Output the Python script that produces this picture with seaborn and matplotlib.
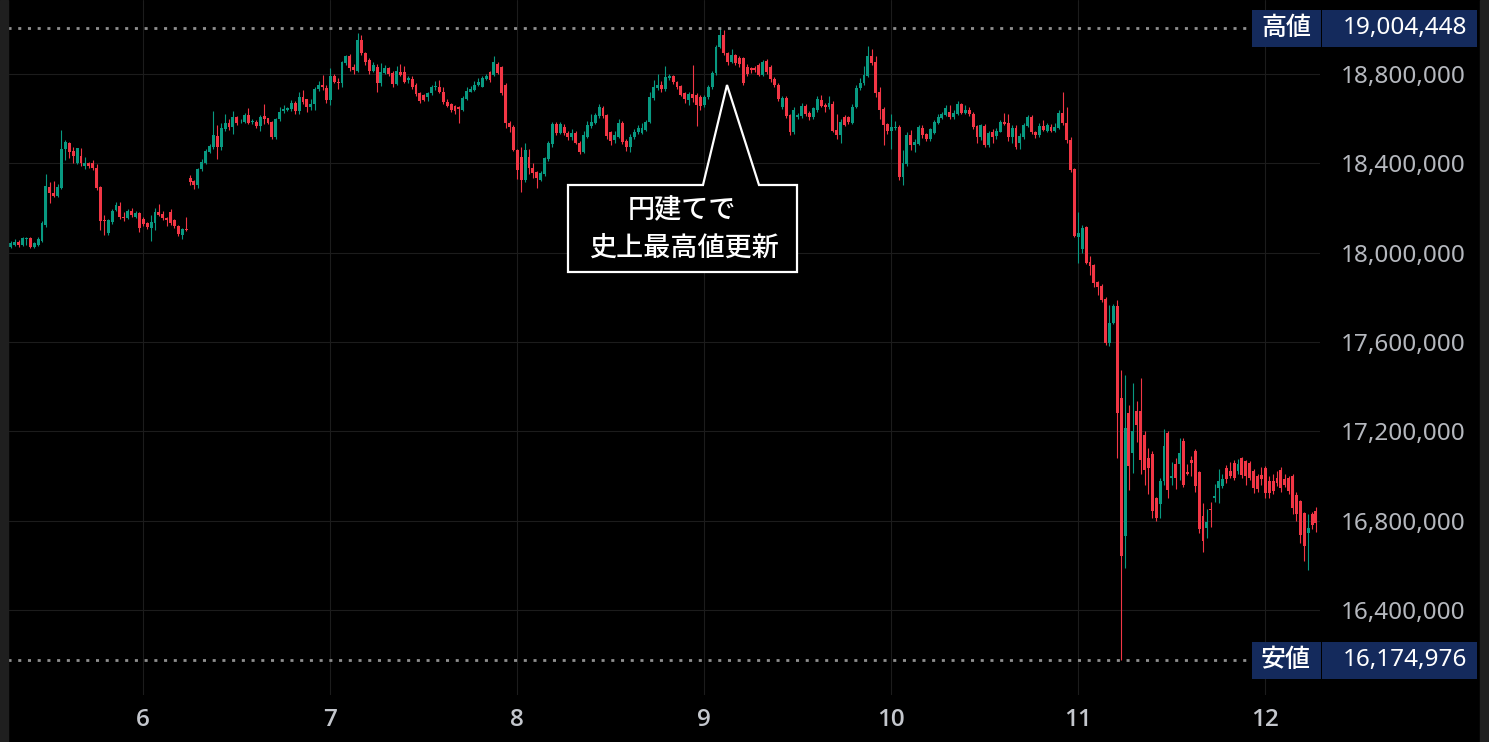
import numpy as np
import pandas as pd
import seaborn as sns
import matplotlib.pyplot as plt
import matplotlib.dates as mdates
from matplotlib.ticker import MultipleLocator, FuncFormatter
from matplotlib.patches import Polygon, Rectangle
from matplotlib.transforms import blended_transform_factory

# BTC/JPY 30-minute candles (JST), prices in thousands of yen
start = "2025-10-05 07:00"

open_k = [
    18027, 18035, 18048, 18033, 18060, 18066, 18024, 18036, 18051, 18122,
    18296, 18269, 18254, 18288, 18464, 18493, 18455, 18400, 18433, 18390,
    18400, 18400, 18378, 18296, 18146, 18087, 18139, 18191, 18209, 18161,
    18155, 18188, 18161, 18176, 18149, 18131, 18109, 18134, 18182, 18173,
    18154, 18182, 18146, 18119, 18079, 18104, 18333, 18319, 18303, 18373,
    18403, 18451, 18475, 18524, 18472, 18552, 18582, 18564, 18609, 18588,
    18587, 18616, 18585, 18587, 18567, 18610, 18601, 18585, 18516, 18597,
    18634, 18639, 18642, 18672, 18633, 18696, 18687, 18654, 18666, 18731,
    18751, 18737, 18684, 18791, 18766, 18758, 18848, 18881, 18833, 18815,
    18952, 18893, 18863, 18815, 18833, 18758, 18806, 18828, 18806, 18755,
    18810, 18810, 18773, 18776, 18751, 18713, 18706, 18699, 18713, 18740,
    18743, 18721, 18676, 18666, 18657, 18651, 18639, 18687, 18721, 18728,
    18751, 18743, 18776, 18810, 18796, 18845, 18833, 18751, 18579, 18564,
    18460, 18430, 18325, 18427, 18378, 18363, 18325, 18352, 18418, 18487,
    18576, 18534, 18564, 18537, 18516, 18534, 18493, 18452, 18519, 18567,
    18582, 18612, 18646, 18616, 18542, 18504, 18519, 18582, 18501, 18475,
    18516, 18542, 18534, 18549, 18586, 18691, 18736, 18751, 18731, 18781,
    18791, 18766, 18746, 18713, 18684, 18710, 18706, 18699, 18661, 18696,
    18743, 18803, 18922, 18975, 18893, 18855, 18885, 18873, 18870, 18833,
    18825, 18828, 18840, 18796, 18860, 18833, 18776, 18751, 18654, 18691,
    18616, 18542, 18609, 18612, 18657, 18627, 18609, 18639, 18684, 18661,
    18654, 18666, 18549, 18527, 18609, 18609, 18579, 18654, 18736, 18758,
    18791, 18881, 18855, 18721, 18642, 18576, 18546, 18557, 18564, 18340,
    18397, 18527, 18482, 18487, 18560, 18530, 18507, 18534, 18582, 18602,
    18616, 18631, 18609, 18621, 18666, 18624, 18639, 18621, 18567, 18519,
    18567, 18482, 18542, 18522, 18542, 18586, 18582, 18516, 18557, 18493,
    18519, 18567, 18606, 18542, 18527, 18567, 18546, 18564, 18546, 18557,
    18624, 18582, 18504, 18373, 18072, 18018, 18116, 17960, 17945, 17870,
    17852, 17790, 17596, 17685, 17760, 17349, 16730, 17282, 17103, 17290,
    17290, 17185, 17081, 17096, 16901, 16872, 16976, 17193, 16991, 17054,
    17051, 17158, 17016, 17069, 17113, 17016, 16822, 16767, 16852, 16901,
    16946, 16954, 17036, 17021, 17058, 17021, 17081, 17066, 17058, 17021,
    16999, 17006, 17036, 16976, 16976, 16991, 17028, 16984, 16991, 16999,
    16916, 16887, 16834, 16745, 16827, 16842,
]

high_k = [
    18052, 18063, 18055, 18070, 18072, 18070, 18048, 18072, 18140, 18350,
    18318, 18320, 18306, 18549, 18505, 18497, 18475, 18470, 18470, 18430,
    18405, 18415, 18398, 18300, 18168, 18150, 18195, 18225, 18228, 18180,
    18195, 18200, 18185, 18180, 18160, 18135, 18170, 18200, 18218, 18185,
    18160, 18195, 18150, 18125, 18110, 18161, 18348, 18325, 18380, 18418,
    18462, 18485, 18636, 18570, 18582, 18620, 18598, 18635, 18612, 18600,
    18625, 18648, 18600, 18596, 18615, 18666, 18605, 18590, 18602, 18650,
    18660, 18652, 18685, 18680, 18720, 18730, 18690, 18690, 18740, 18770,
    18795, 18750, 18825, 18800, 18780, 18860, 18885, 18890, 18845, 18985,
    18975, 18900, 18870, 18855, 18845, 18850, 18840, 18830, 18815, 18835,
    18845, 18835, 18790, 18790, 18760, 18720, 18712, 18720, 18750, 18770,
    18775, 18740, 18690, 18670, 18660, 18655, 18700, 18740, 18745, 18770,
    18780, 18790, 18800, 18812, 18880, 18855, 18835, 18760, 18590, 18570,
    18465, 18475, 18490, 18465, 18400, 18365, 18365, 18430, 18500, 18585,
    18585, 18585, 18575, 18545, 18555, 18545, 18500, 18545, 18590, 18620,
    18625, 18665, 18655, 18620, 18545, 18545, 18600, 18590, 18510, 18530,
    18555, 18570, 18580, 18595, 18720, 18775, 18800, 18770, 18836, 18800,
    18795, 18770, 18750, 18720, 18720, 18840, 18715, 18705, 18705, 18750,
    18815, 18930, 19004.448, 18998, 18900, 18910, 18890, 18880, 18875, 18845,
    18830, 18835, 18850, 18862, 18865, 18840, 18785, 18760, 18700, 18700,
    18620, 18650, 18625, 18670, 18665, 18635, 18650, 18700, 18705, 18670,
    18700, 18680, 18620, 18600, 18615, 18612, 18665, 18750, 18780, 18835,
    18925, 18910, 18880, 18740, 18650, 18580, 18620, 18590, 18572, 18460,
    18540, 18549, 18510, 18570, 18570, 18535, 18560, 18592, 18620, 18630,
    18660, 18660, 18640, 18680, 18670, 18660, 18650, 18630, 18570, 18575,
    18575, 18545, 18552, 18560, 18595, 18624, 18620, 18570, 18570, 18535,
    18580, 18615, 18615, 18545, 18580, 18593, 18580, 18575, 18580, 18640,
    18721, 18650, 18520, 18380, 18184, 18125, 18120, 17985, 17950, 17875,
    17860, 17800, 17767, 17770, 17787, 17476, 17454, 17319, 17416, 17334,
    17440, 17200, 17125, 17110, 16905, 16990, 17210, 17200, 17060, 17080,
    17170, 17170, 17055, 17090, 17120, 17020, 16880, 16850, 16885, 16965,
    17030, 17010, 17050, 17060, 17070, 17075, 17085, 17070, 17065, 17030,
    17010, 17040, 17045, 17000, 17010, 17020, 17040, 17010, 17000, 17010,
    16930, 16890, 16840, 16830, 16840, 16862,
]

low_k = [
    18020, 18030, 18027, 18030, 18033, 18020, 18020, 18030, 18048, 18116,
    18220, 18250, 18248, 18284, 18415, 18424, 18400, 18398, 18390, 18375,
    18380, 18370, 18280, 18100, 18080, 18080, 18130, 18185, 18150, 18140,
    18150, 18160, 18155, 18092, 18120, 18105, 18050, 18100, 18165, 18145,
    18120, 18125, 18110, 18075, 18060, 18095, 18302, 18287, 18290, 18365,
    18395, 18445, 18465, 18418, 18460, 18545, 18550, 18530, 18572, 18580,
    18580, 18575, 18578, 18560, 18545, 18575, 18575, 18510, 18510, 18590,
    18625, 18635, 18635, 18620, 18620, 18665, 18630, 18640, 18640, 18725,
    18730, 18670, 18660, 18760, 18735, 18740, 18840, 18815, 18800, 18810,
    18885, 18840, 18800, 18810, 18720, 18745, 18800, 18792, 18740, 18750,
    18790, 18760, 18760, 18735, 18700, 18670, 18678, 18680, 18705, 18730,
    18715, 18665, 18650, 18630, 18620, 18582, 18635, 18685, 18720, 18725,
    18745, 18740, 18775, 18765, 18790, 18800, 18705, 18560, 18540, 18455,
    18330, 18273, 18315, 18350, 18335, 18288, 18320, 18345, 18410, 18475,
    18525, 18530, 18525, 18505, 18505, 18485, 18440, 18445, 18515, 18560,
    18575, 18605, 18605, 18510, 18480, 18490, 18515, 18485, 18455, 18450,
    18510, 18530, 18530, 18545, 18580, 18685, 18730, 18720, 18725, 18775,
    18755, 18735, 18700, 18670, 18660, 18675, 18565, 18640, 18650, 18690,
    18735, 18795, 18915, 18885, 18840, 18850, 18840, 18830, 18750, 18790,
    18805, 18810, 18790, 18790, 18800, 18765, 18740, 18680, 18645, 18605,
    18525, 18530, 18600, 18605, 18610, 18595, 18600, 18630, 18650, 18630,
    18645, 18540, 18508, 18490, 18565, 18575, 18575, 18648, 18730, 18752,
    18785, 18840, 18695, 18600, 18480, 18530, 18463, 18550, 18325, 18303,
    18390, 18460, 18452, 18480, 18515, 18500, 18500, 18530, 18575, 18600,
    18610, 18600, 18600, 18615, 18620, 18620, 18610, 18555, 18493, 18505,
    18475, 18475, 18490, 18510, 18540, 18570, 18500, 18490, 18465, 18465,
    18510, 18562, 18530, 18515, 18520, 18545, 18540, 18540, 18540, 18555,
    18570, 18490, 18360, 18070, 17952, 18000, 17950, 17900, 17845, 17810,
    17780, 17585, 17581, 17680, 17081, 16174.976, 16588, 16936, 17013, 17150,
    17010, 16960, 16920, 16812, 16800, 16812, 16960, 16900, 16960, 16940,
    16980, 16950, 17005, 17000, 16930, 16745, 16660, 16722, 16770, 16885,
    16880, 16945, 16970, 16990, 16980, 17010, 16990, 16960, 16980, 16925,
    16930, 16960, 16900, 16900, 16920, 16955, 16930, 16950, 16920, 16830,
    16800, 16700, 16620, 16580, 16760, 16750,
]

close_k = [
    18042, 18048, 18033, 18066, 18066, 18024, 18042, 18063, 18131, 18298,
    18269, 18254, 18296, 18464, 18497, 18452, 18433, 18467, 18400, 18400,
    18390, 18378, 18288, 18143, 18143, 18146, 18188, 18213, 18161, 18154,
    18188, 18169, 18176, 18109, 18128, 18113, 18139, 18182, 18169, 18154,
    18146, 18131, 18119, 18084, 18104, 18100, 18318, 18301, 18373, 18406,
    18457, 18478, 18527, 18472, 18558, 18582, 18564, 18609, 18579, 18591,
    18616, 18579, 18591, 18567, 18606, 18600, 18582, 18516, 18597, 18631,
    18643, 18646, 18669, 18633, 18696, 18676, 18654, 18666, 18731, 18751,
    18740, 18684, 18791, 18766, 18761, 18854, 18881, 18825, 18818, 18952,
    18893, 18855, 18815, 18839, 18758, 18810, 18825, 18800, 18755, 18815,
    18796, 18766, 18781, 18740, 18710, 18679, 18684, 18713, 18743, 18746,
    18721, 18676, 18657, 18639, 18636, 18642, 18691, 18725, 18731, 18751,
    18766, 18782, 18793, 18773, 18855, 18806, 18713, 18579, 18564, 18460,
    18370, 18325, 18460, 18378, 18355, 18333, 18355, 18422, 18490, 18576,
    18537, 18576, 18534, 18516, 18537, 18493, 18452, 18527, 18572, 18587,
    18616, 18651, 18612, 18522, 18501, 18527, 18582, 18497, 18475, 18519,
    18542, 18557, 18557, 18586, 18699, 18740, 18751, 18732, 18785, 18791,
    18766, 18740, 18706, 18687, 18710, 18691, 18661, 18657, 18699, 18743,
    18806, 18922, 18975, 18893, 18855, 18885, 18851, 18845, 18758, 18800,
    18818, 18818, 18796, 18855, 18810, 18776, 18751, 18687, 18691, 18612,
    18542, 18639, 18616, 18657, 18621, 18609, 18646, 18687, 18657, 18651,
    18669, 18546, 18527, 18587, 18572, 18587, 18654, 18736, 18761, 18796,
    18881, 18848, 18716, 18639, 18572, 18546, 18564, 18564, 18340, 18400,
    18527, 18482, 18497, 18561, 18527, 18507, 18552, 18585, 18606, 18619,
    18646, 18609, 18624, 18666, 18627, 18639, 18621, 18564, 18519, 18572,
    18482, 18534, 18519, 18546, 18586, 18576, 18516, 18557, 18475, 18522,
    18572, 18606, 18539, 18527, 18567, 18549, 18572, 18546, 18561, 18627,
    18582, 18504, 18370, 18075, 18087, 18109, 17955, 17940, 17866, 17845,
    17787, 17596, 17685, 17760, 17282, 16640, 17215, 17043, 17200, 17230,
    17073, 17028, 17036, 16842, 16812, 16976, 17136, 16936, 16999, 16991,
    17103, 16961, 17010, 17058, 16954, 16763, 16707, 16793, 16846, 16912,
    16976, 16984, 16984, 16999, 16991, 17051, 17006, 16999, 16991, 16946,
    16939, 16984, 16924, 16924, 16931, 16969, 16946, 16961, 16931, 16857,
    16827, 16737, 16687, 16767, 16782, 16790,
]

callout_lines = ["円建てで", "史上最高値更新"]

GREEN = "#089981"
RED = "#f23645"
NAVY = "#142a5c"

df = pd.DataFrame({"open": open_k, "high": high_k, "low": low_k, "close": close_k}) * 1000
df["time"] = pd.date_range(start, periods=len(df), freq="30min")
df["x"] = mdates.date2num(df["time"])

sns.set_theme(style="dark", rc={
    "figure.facecolor": "black", "axes.facecolor": "black", "savefig.facecolor": "black",
    "grid.color": "#1c1c1c", "grid.linewidth": 0.8, "axes.edgecolor": "black",
    "text.color": "white", "xtick.color": "#c4c7cd", "ytick.color": "#b5b8be",
})
plt.rcParams["font.family"] = ["Noto Sans", "Noto Sans CJK JP", "DejaVu Sans"]

# layout in image pixels
W, H = 1489, 742
def fx(px):
    return px / W
def fy(py):
    return 1 - py / H

fig = plt.figure(figsize=(W / 100, H / 100), dpi=100)
ax = fig.add_axes([fx(8), fy(695), fx(1320) - fx(8), fy(0) - fy(695)])
ax.set_facecolor("black")

# candles
up = df["close"] >= df["open"]
col = np.where(up, GREEN, RED)
ax.vlines(df["x"], df["low"], df["high"], colors=col, linewidth=0.8, zorder=3)
body_lo = df[["open", "close"]].min(axis=1)
body_h = (df["close"] - df["open"]).abs().clip(lower=3500)
ax.bar(df["x"], body_h, bottom=body_lo, width=0.75 / 48, color=col, linewidth=0, zorder=4)

# axes limits
day6 = mdates.date2num(pd.Timestamp("2025-10-06"))
ax.set_xlim(day6 - 135.3 / 187, day6 + 1176.7 / 187)
ylo, yhi = 16018500, 19131500
ax.set_ylim(ylo, yhi)
ypp = (yhi - ylo) / 695

ax.xaxis.set_major_locator(mdates.DayLocator())
ax.xaxis.set_major_formatter(FuncFormatter(lambda v, p: str(mdates.num2date(v).day)))
ax.yaxis.tick_right()
ax.yaxis.set_major_locator(MultipleLocator(400000))
ax.yaxis.set_major_formatter(FuncFormatter(lambda v, p: f"{v:,.0f}"))
ax.grid(True, color="#1c1c1c", linewidth=0.8)
ax.tick_params(axis="both", length=0)
ax.tick_params(axis="y", pad=105, labelsize=17.5)
ax.tick_params(axis="x", pad=9, labelsize=17.5)
plt.setp(ax.get_yticklabels(), ha="right")
plt.setp(ax.get_xticklabels(), family=["Open Sans", "Noto Sans"], fontweight="semibold")
for s in ax.spines.values():
    s.set_visible(False)

# high / low markers
hi = df["high"].max()
lo = df["low"].min()
bt = blended_transform_factory(fig.transFigure, ax.transData)
for v, tag in ((hi, "高値"), (lo, "安値")):
    ax.axhline(v, xmin=0, xmax=(1252 - 8) / (1320 - 8), color="#8f8f8f", lw=2.0,
               ls=(0, (1.1, 2.4)), zorder=5)
    bh = 37 * ypp
    ax.add_patch(Rectangle((fx(1252), v - bh / 2), fx(1320.5) - fx(1252), bh, transform=bt,
                           facecolor=NAVY, linewidth=0, clip_on=False, zorder=6))
    ax.add_patch(Rectangle((fx(1322), v - bh / 2), fx(1477) - fx(1322), bh, transform=bt,
                           facecolor=NAVY, linewidth=0, clip_on=False, zorder=6))
    ax.text(fx(1286), v, tag, transform=bt, ha="center", va="center", color="white",
            fontsize=18, family=["Noto Sans CJK JP"], fontweight="medium", clip_on=False, zorder=7)
    ax.text(fx(1467), v, f"{v:,.0f}", transform=bt, ha="right", va="center", color="white",
            fontsize=17.5, clip_on=False, zorder=7)

# callout
pts = [(568, 185), (703, 185), (727, 85), (759, 185), (797, 185), (797, 272), (568, 272)]
fig.add_artist(Polygon([(fx(a), fy(b)) for a, b in pts], closed=True, transform=fig.transFigure,
                       facecolor="black", edgecolor="white", linewidth=1.6, joinstyle="miter"))
fig.text(fx(682), fy(210.5), callout_lines[0], ha="center", va="center", color="white",
         fontsize=19.5, family=["Noto Sans CJK JP"], fontweight="medium")
fig.text(fx(684), fy(248), callout_lines[1], ha="center", va="center", color="white",
         fontsize=19.5, family=["Noto Sans CJK JP"], fontweight="medium")

# side frame strips
fig.add_artist(Rectangle((0, 0), fx(8), 1, transform=fig.transFigure, color="#1f1f1f"))
fig.add_artist(Rectangle((fx(1480), 0), fx(W) - fx(1480), 1, transform=fig.transFigure, color="#1f1f1f"))

plt.savefig("out.png", dpi=100)
